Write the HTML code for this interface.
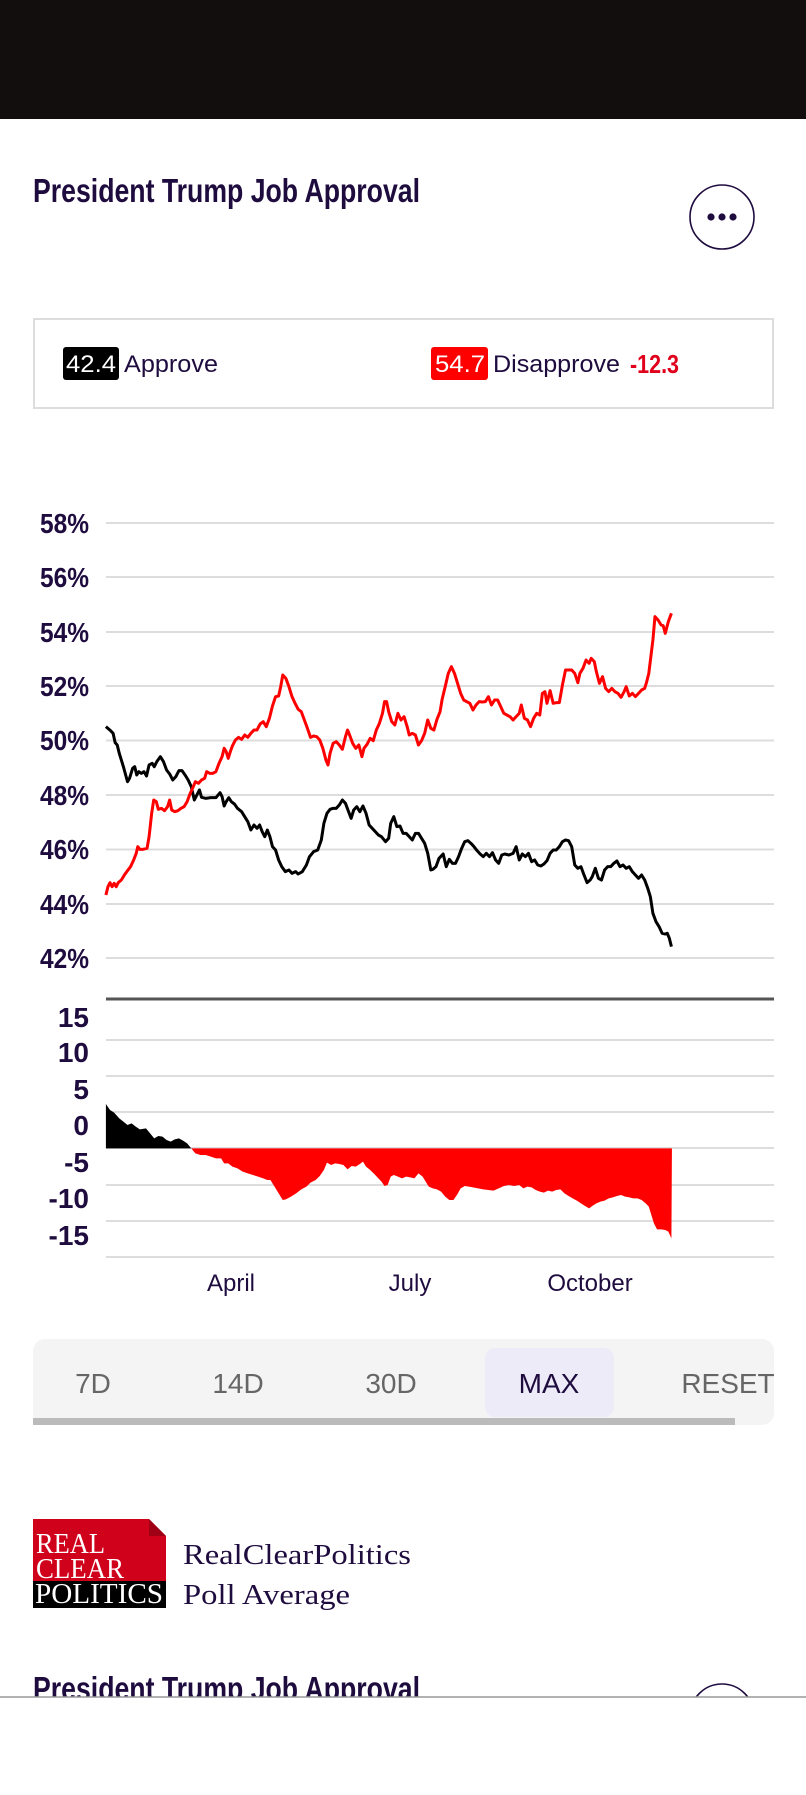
<!DOCTYPE html>
<html><head><meta charset="utf-8"><style>
html,body{margin:0;padding:0;background:#fff;width:806px;height:1795px;overflow:hidden}
svg{display:block}
.t{font-family:"Liberation Sans Narrow","Liberation Sans",sans-serif;font-weight:bold;fill:#1f0c3f}
.s{font-family:"Liberation Sans",sans-serif;fill:#1f0c3f}
.sf{font-family:"Liberation Serif",serif}
</style></head><body>
<svg width="806" height="1795" viewBox="0 0 806 1795" xmlns="http://www.w3.org/2000/svg">
<rect x="0" y="0" width="806" height="119" fill="#130e0e"/>
<text class="t" x="33" y="202" font-size="33" textLength="387" lengthAdjust="spacingAndGlyphs">President Trump Job Approval</text>
<circle cx="722" cy="217" r="32" fill="none" stroke="#1f0c3f" stroke-width="1.6"/>
<circle cx="711" cy="217" r="3.6" fill="#1f0c3f"/><circle cx="722" cy="217" r="3.6" fill="#1f0c3f"/><circle cx="733" cy="217" r="3.6" fill="#1f0c3f"/>

<rect x="34" y="319" width="739" height="89" fill="#fff" stroke="#ddd" stroke-width="2"/>
<rect x="63" y="347" width="56" height="33" rx="3" fill="#000"/>
<text class="s" x="66" y="372" font-size="24" style="fill:#fff" textLength="50" lengthAdjust="spacingAndGlyphs">42.4</text>
<text class="s" x="124" y="372" font-size="24" textLength="94" lengthAdjust="spacingAndGlyphs">Approve</text>
<rect x="431" y="347" width="57" height="33" rx="3" fill="#f00"/>
<text class="s" x="435" y="372" font-size="24" style="fill:#fff" textLength="50" lengthAdjust="spacingAndGlyphs">54.7</text>
<text class="s" x="493" y="372" font-size="24" textLength="127" lengthAdjust="spacingAndGlyphs">Disapprove</text>
<text class="s" x="630" y="373" font-size="26" font-weight="bold" style="fill:#e0001b" textLength="49" lengthAdjust="spacingAndGlyphs">-12.3</text>

<g stroke="#ddd" stroke-width="2">
<line x1="106" x2="774" y1="523" y2="523"/><line x1="106" x2="774" y1="577" y2="577"/>
<line x1="106" x2="774" y1="632" y2="632"/><line x1="106" x2="774" y1="686" y2="686"/>
<line x1="106" x2="774" y1="740.5" y2="740.5"/><line x1="106" x2="774" y1="795" y2="795"/>
<line x1="106" x2="774" y1="849.5" y2="849.5"/><line x1="106" x2="774" y1="904" y2="904"/>
<line x1="106" x2="774" y1="958" y2="958"/>
</g>
<g class="t" font-size="28" text-anchor="end">
<text x="89" y="533" textLength="49" lengthAdjust="spacingAndGlyphs">58%</text><text x="89" y="587" textLength="49" lengthAdjust="spacingAndGlyphs">56%</text><text x="89" y="642" textLength="49" lengthAdjust="spacingAndGlyphs">54%</text>
<text x="89" y="696" textLength="49" lengthAdjust="spacingAndGlyphs">52%</text><text x="89" y="750" textLength="49" lengthAdjust="spacingAndGlyphs">50%</text><text x="89" y="805" textLength="49" lengthAdjust="spacingAndGlyphs">48%</text>
<text x="89" y="859" textLength="49" lengthAdjust="spacingAndGlyphs">46%</text><text x="89" y="914" textLength="49" lengthAdjust="spacingAndGlyphs">44%</text><text x="89" y="968" textLength="49" lengthAdjust="spacingAndGlyphs">42%</text>
</g>
<line x1="106" x2="774" y1="999" y2="999" stroke="#555" stroke-width="3"/>

<g transform="translate(0,500) scale(0.5141,0.33333)" fill="none" stroke-width="3" stroke-linejoin="round">
<polyline vector-effect="non-scaling-stroke" stroke="#000" points="206,680 215,692 220,700 224,728 228,735 232,760 240,800 248,845 252,835 258,805 262,800 266,825 270,815 275,820 280,815 285,828 290,795 296,790 300,800 305,785 312,770 318,785 324,810 330,822 336,840 342,830 348,812 354,812 360,825 366,840 372,860 378,900 383,885 388,870 392,892 400,895 410,893 420,893 428,878 432,890 436,918 440,905 445,893 450,905 456,912 462,925 470,935 476,950 482,965 488,990 494,975 500,985 505,975 510,995 515,1010 520,990 525,1010 530,1040 536,1050 542,1080 548,1100 555,1115 562,1110 568,1120 575,1115 580,1122 588,1115 596,1095 602,1070 610,1055 618,1050 625,1020 630,970 636,940 642,928 648,925 654,925 660,915 666,900 672,910 678,935 683,955 688,930 694,920 700,935 706,918 712,940 718,975 724,985 730,995 736,1005 742,1010 750,1025 756,1015 760,970 766,950 772,980 778,978 784,1000 790,1000 796,1010 802,1020 808,1000 814,1000 820,1015 826,1030 832,1060 838,1110 842,1108 848,1100 854,1075 862,1062 868,1100 874,1078 880,1090 886,1090 892,1070 898,1045 904,1025 910,1022 916,1030 922,1040 928,1052 934,1062 940,1070 946,1060 952,1070 958,1058 964,1080 970,1090 976,1065 982,1062 990,1065 998,1060 1004,1040 1010,1080 1016,1062 1022,1070 1028,1060 1034,1085 1040,1080 1046,1095 1052,1098 1058,1092 1064,1082 1070,1060 1076,1050 1082,1050 1088,1040 1094,1025 1100,1020 1106,1022 1112,1040 1118,1095 1124,1105 1130,1100 1136,1125 1142,1148 1148,1140 1152,1130 1158,1105 1164,1135 1170,1140 1176,1110 1182,1100 1188,1100 1194,1090 1200,1083 1206,1100 1212,1095 1218,1105 1224,1100 1230,1115 1236,1125 1242,1135 1248,1125 1254,1140 1260,1165 1265,1190 1270,1240 1276,1265 1282,1280 1288,1300 1294,1302 1298,1300 1302,1315 1306,1340"/>
<polyline vector-effect="non-scaling-stroke" stroke="#f00" points="206,1185 210,1160 214,1148 218,1160 222,1150 226,1160 230,1148 236,1140 242,1125 248,1112 254,1100 260,1080 265,1060 268,1040 272,1048 278,1048 286,1045 290,1010 295,940 299,900 304,905 308,928 314,925 320,932 326,920 330,900 334,930 340,935 346,932 352,925 358,920 364,905 370,880 376,860 380,845 386,850 392,840 398,835 402,815 408,820 414,820 420,815 426,790 432,770 436,745 440,755 444,775 448,755 452,738 458,720 464,712 470,718 476,705 482,712 488,700 494,690 500,690 506,672 512,665 518,680 524,655 530,618 536,590 542,588 546,560 550,525 556,535 562,560 568,590 574,610 580,628 586,635 592,660 598,685 604,712 610,708 616,710 622,720 628,745 634,780 638,795 642,760 648,730 654,725 660,735 666,748 672,710 676,690 680,705 686,730 692,745 698,735 704,770 708,745 714,733 720,715 726,722 732,690 738,670 744,640 748,605 752,605 756,635 762,665 768,675 774,640 780,660 786,650 792,680 796,705 802,700 808,705 814,735 820,722 826,700 832,660 838,685 844,690 850,658 856,635 860,598 866,560 872,520 878,500 884,520 890,550 896,580 902,600 908,605 914,610 920,630 926,615 932,605 938,606 944,605 950,590 956,615 962,600 968,600 974,620 980,640 986,645 992,650 998,660 1004,650 1010,640 1014,615 1020,655 1026,660 1032,680 1038,655 1044,640 1050,645 1055,580 1060,575 1064,610 1070,572 1076,610 1082,608 1088,608 1094,555 1100,510 1106,510 1112,510 1118,520 1124,548 1128,520 1134,505 1140,480 1146,490 1150,475 1156,485 1160,515 1166,550 1172,530 1178,565 1184,575 1190,565 1196,575 1202,580 1208,592 1214,575 1218,560 1224,588 1230,580 1236,590 1242,580 1248,570 1254,565 1258,545 1262,520 1266,470 1270,420 1274,350 1280,360 1286,375 1290,377 1294,400 1300,365 1306,340"/>
</g>

<g stroke="#ddd" stroke-width="2">
<line x1="106" x2="774" y1="1040" y2="1040"/><line x1="106" x2="774" y1="1076" y2="1076"/>
<line x1="106" x2="774" y1="1112" y2="1112"/><line x1="106" x2="774" y1="1148" y2="1148"/>
<line x1="106" x2="774" y1="1185" y2="1185"/><line x1="106" x2="774" y1="1221" y2="1221"/>
<line x1="106" x2="774" y1="1257" y2="1257"/>
</g>
<g class="t" font-size="28" text-anchor="end">
<text x="89" y="1027">15</text><text x="89" y="1062">10</text><text x="89" y="1099">5</text>
<text x="89" y="1135">0</text><text x="89" y="1172">-5</text><text x="89" y="1208">-10</text>
<text x="89" y="1245">-15</text>
</g>
<g transform="translate(0,990) scale(0.5141,0.33333)">
<polygon fill="#000" points="206,475 206,342 214,360 222,368 232,385 240,395 248,405 256,400 264,410 272,418 284,415 292,430 300,445 308,438 316,440 324,450 332,455 340,448 348,445 356,452 364,460 372,475"/>
<polygon fill="#f00" points="372,475 380,490 390,495 400,495 410,500 420,505 430,505 436,520 444,520 452,530 462,535 472,545 482,550 492,555 502,560 512,565 520,570 526,570 534,590 542,610 550,630 556,628 566,620 576,610 586,598 596,590 604,578 614,570 622,558 630,540 636,518 644,525 652,520 660,522 668,525 676,538 684,528 692,530 700,522 706,515 712,530 720,540 728,552 736,565 742,575 748,588 754,585 760,560 766,555 774,560 782,565 790,560 798,562 806,565 814,550 822,560 828,575 834,590 842,595 850,598 858,605 866,620 874,630 882,630 890,612 896,595 904,588 912,590 920,592 930,595 940,598 950,600 960,602 970,595 980,588 990,585 1000,588 1010,585 1018,595 1026,590 1034,592 1042,600 1050,605 1058,608 1066,602 1074,605 1082,600 1090,598 1098,610 1106,618 1114,625 1122,632 1130,640 1138,648 1146,655 1152,648 1160,640 1168,635 1176,632 1184,625 1192,622 1200,618 1208,615 1216,620 1224,622 1232,625 1240,625 1248,630 1256,640 1262,650 1266,670 1272,700 1278,718 1286,718 1294,720 1300,725 1306,745 1307,475"/>
</g>
<g class="s" font-size="24" text-anchor="middle">
<text x="231" y="1291">April</text><text x="410" y="1291">July</text><text x="590" y="1291">October</text>
</g>

<rect x="33" y="1339" width="741" height="86" rx="12" fill="#f4f4f4"/>
<rect x="485" y="1348" width="129" height="69" rx="10" fill="#eeebf8"/>
<rect x="33" y="1418" width="702" height="7" fill="#bbb"/>
<g class="s" font-size="28" text-anchor="middle">
<text x="93" y="1393" style="fill:#666">7D</text>
<text x="238" y="1393" style="fill:#666">14D</text>
<text x="391" y="1393" style="fill:#666">30D</text>
<text x="549" y="1393">MAX</text>
<text x="728" y="1393" style="fill:#666">RESET</text>
</g>

<rect x="33" y="1519" width="133" height="62" fill="#d0021b"/>
<polygon points="149,1519 166,1519 166,1536" fill="#fff"/>
<polygon points="149,1519 166,1536 149,1536" fill="#a00015"/>
<rect x="33" y="1581" width="133" height="27" fill="#000"/>
<g class="sf" fill="#fff" font-size="29">
<text x="36" y="1553" textLength="69" lengthAdjust="spacingAndGlyphs">REAL</text>
<text x="36" y="1578" textLength="88" lengthAdjust="spacingAndGlyphs">CLEAR</text>
<text x="35" y="1603" textLength="128" lengthAdjust="spacingAndGlyphs">POLITICS</text>
</g>
<g class="sf" fill="#1f0c3f" font-size="28">
<text x="183" y="1564" textLength="228" lengthAdjust="spacingAndGlyphs">RealClearPolitics</text>
<text x="183" y="1604" textLength="167" lengthAdjust="spacingAndGlyphs">Poll Average</text>
</g>

<text class="t" x="33" y="1700" font-size="33" textLength="387" lengthAdjust="spacingAndGlyphs">President Trump Job Approval</text>
<circle cx="722" cy="1716" r="32" fill="none" stroke="#1f0c3f" stroke-width="1.6"/>
<rect x="0" y="1697" width="806" height="98" fill="#fff"/>
<line x1="0" x2="806" y1="1697" y2="1697" stroke="#999" stroke-width="1.5"/>
</svg>
</body></html>
